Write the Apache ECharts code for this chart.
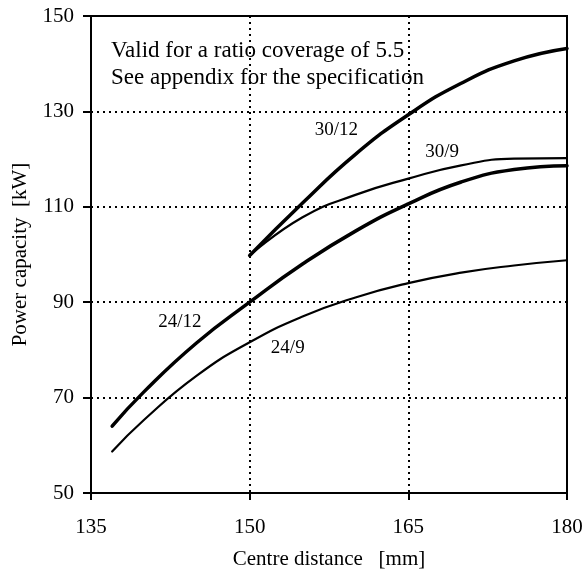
<!DOCTYPE html>
<html>
<head>
<meta charset="utf-8">
<script src="https://cdn.jsdelivr.net/npm/echarts@6/dist/echarts.min.js"></script>
<style>html,body{margin:0;padding:0;background:#fff}#c{width:587px;height:576px}</style>
</head>
<body>
<div id="c"></div>
<script>
// Data: [centre distance mm, power kW]
const s24_12 = [[137,64],[140,71.2],[145,81.5],[150,90],[155,98.0],[160,104.9],[165,110.6],[170,115.2],[175,117.8],[180,118.6]];
const s24_9  = [[137,58.7],[140,65.3],[145,74.6],[150,81.6],[155,87.0],[160,91.0],[165,94.0],[170,96.2],[175,97.7],[180,98.8]];
const s30_12 = [[150,99.8],[155,110.8],[160,121.0],[165,129.3],[170,135.9],[175,140.6],[180,143.2]];
const s30_9  = [[150,99.8],[155,107.8],[160,112.5],[165,115.9],[170,118.7],[175,120.1],[180,120.2]];
const labelAt = {'24/12':[143.4,85.9],'24/9':[153.6,80.4],'30/12':[158.2,126.1],'30/9':[168.2,121.5]};
const xTicks = [135,150,165,180];
const yTicks = [50,70,90,110,130,150];
const note = ['Valid for a ratio coverage of 5.5','See appendix for the specification'];

const FONT = '"Liberation Serif", "Times New Roman", serif';
const chart = echarts.init(document.getElementById('c'));
function mk(name, data, width){
  return {
    name, type:'line', data, smooth:0.5, showSymbol:false, symbol:'none',
    lineStyle:{color:'#000', width, cap:'round', join:'round'}, silent:true, z:5,
    markPoint:{symbolSize:0, symbol:'circle', silent:true,
      label:{show:true, formatter:name, color:'#000', fontFamily:FONT, fontSize:19, position:'inside'},
      data:[{coord:labelAt[name]}]}
  };
}
chart.setOption({
  animation:false,
  backgroundColor:'#fff',
  grid:{left:91, right:20, top:16, bottom:83, show:true, borderColor:'#000', borderWidth:2, containLabel:false},
  xAxis:{type:'value', min:xTicks[0], max:xTicks[xTicks.length-1], interval:15,
    name:'Centre distance   [mm]', nameLocation:'middle', nameGap:56,
    nameTextStyle:{color:'#000', fontFamily:FONT, fontSize:21},
    axisLine:{show:true, lineStyle:{color:'#000', width:2}},
    axisTick:{show:true, length:7, lineStyle:{color:'#000', width:2}},
    axisLabel:{color:'#000', fontFamily:FONT, fontSize:21, margin:24},
    splitLine:{show:true, lineStyle:{color:'#000', width:2, type:[2,4]}}
  },
  yAxis:{type:'value', min:yTicks[0], max:yTicks[yTicks.length-1], interval:20,
    name:'Power capacity  [kW]', nameLocation:'middle', nameGap:60,
    nameTextStyle:{color:'#000', fontFamily:FONT, fontSize:21},
    axisLine:{show:true, lineStyle:{color:'#000', width:2}},
    axisTick:{show:true, length:8, lineStyle:{color:'#000', width:2}},
    axisLabel:{color:'#000', fontFamily:FONT, fontSize:21, margin:17},
    splitLine:{show:true, lineStyle:{color:'#000', width:2, type:[2,4]}}
  },
  graphic:[{type:'text', left:111, top:37, silent:true,
    style:{text:note.join('\n'), fill:'#000', font:'23px '+FONT, lineHeight:27}}],
  series:[mk('24/12',s24_12,3.5), mk('24/9',s24_9,2.2), mk('30/12',s30_12,3.5), mk('30/9',s30_9,2.2)]
});
</script>
</body>
</html>
